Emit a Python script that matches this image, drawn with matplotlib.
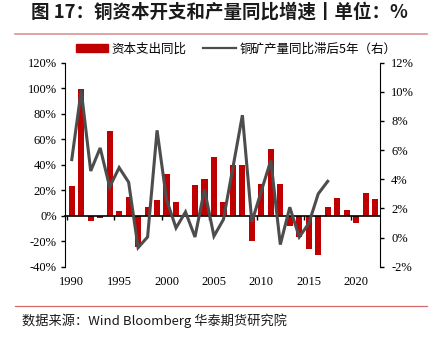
import numpy as np
import matplotlib.pyplot as plt
from matplotlib.lines import Line2D
from matplotlib.patches import Patch
from matplotlib.ticker import FuncFormatter

plt.rcParams['font.family'] = ['Noto Sans CJK SC', 'DejaVu Sans']

years = np.arange(1990, 2023)
capex_yoy = [23, 99, -4, -2, 66.5, 3.8, 15, -24.5, 6.8, 12,
             33, 11, 0, 24, 29, 46, 11, 40, 40, -19.7,
             25, 52.5, 25, -8.4, -17, -26, -30.5, 7, 14, 4.8,
             -5.5, 17.8, 13]
line_years = np.arange(1990, 2018)
output_yoy_lag5 = [5.35, 10.1, 4.57, 6.15, 3.47, 4.8, 3.8, -0.69, 0.04, 7.36,
                   2.6, 0.66, 1.76, 0.04, 3.3, 0.1, 1.24, 4.8, 8.4, 1.07,
                   3.2, 5.3, -0.48, 2.08, 0.04, 0.96, 3.0, 3.86]
label_years = [1990, 1995, 2000, 2005, 2010, 2015, 2020]

red = '#c00000'
gray = '#4d4d4d'
serif = 'Liberation Serif'

fig = plt.figure(figsize=(4.32, 3.38), dpi=100)
ax = fig.add_axes([0.1505, 0.2109, 0.7292, 0.6036])
ax2 = ax.twinx()

ax.bar(years, capex_yoy, width=0.65, color=red, zorder=1)
ax2.plot(line_years, output_yoy_lag5, color=gray, lw=2.2, solid_joinstyle='miter')

ax.set_xlim(1989.29, 2022.52)
ax.set_ylim(-40, 120)
ax2.set_ylim(-2, 12)
ax.set_yticks(np.arange(-40, 121, 20))
ax2.set_yticks(np.arange(-2, 13, 2))
ax.yaxis.set_major_formatter(FuncFormatter(lambda v, p: f'{v:.0f}%'))
ax2.yaxis.set_major_formatter(FuncFormatter(lambda v, p: f'{v:.0f}%'))

# x axis line sits on zero, ticks between categories
ax.spines['bottom'].set_position(('data', 0))
ax.spines['bottom'].set_linewidth(1.2)
ax.set_xticks(np.arange(1989.5, 2022, 5))
ax.tick_params(axis='x', direction='out', length=3, width=1, labelbottom=False)
sec = ax.secondary_xaxis('bottom')
sec.set_xticks(label_years)
sec.spines['bottom'].set_visible(False)
sec.tick_params(length=0, pad=6.5)
for t in sec.get_xticklabels():
    t.set_fontfamily(serif)
    t.set_fontsize(9)

for a in (ax, ax2):
    a.spines['top'].set_visible(False)
ax.spines['right'].set_visible(False)
ax2.spines['bottom'].set_visible(False)
ax2.spines['left'].set_visible(False)
ax.tick_params(axis='y', direction='out', length=3, width=1, pad=3)
ax2.tick_params(axis='y', direction='out', length=3, width=1, pad=5)
for t in ax.get_yticklabels() + ax2.get_yticklabels():
    t.set_fontfamily(serif)
    t.set_fontsize(9)

handles = [Patch(color=red), Line2D([], [], color=gray, lw=1.6)]
fig.legend(handles, ['资本支出同比', '铜矿产量同比滞后5年（右）'],
           loc='center', bbox_to_anchor=(236 / 432, 1 - 49 / 338), ncol=2,
           frameon=False, fontsize=9, handlelength=2.6, handleheight=0.6,
           handletextpad=0.3, columnspacing=1.3, borderpad=0)

fig.text(219 / 432, 1 - 12.5 / 338, '图 17：铜资本开支和产量同比增速丨单位：%',
         ha='center', va='center', fontsize=13.3, fontweight='bold', color='#1a1a1a')
fig.add_artist(Line2D([15 / 432, 427 / 432], [1 - 33.7 / 338] * 2,
                      color='#d99594', lw=1.2))
fig.add_artist(Line2D([15 / 432, 427 / 432], [1 - 306 / 338] * 2,
                      color='#d46a6a', lw=0.9))
fig.text(22 / 432, 1 - 321 / 338, '数据来源：Wind Bloomberg 华泰期货研究院',
         ha='left', va='center', fontsize=9.5, color='#1a1a1a')

fig.savefig('out.png', dpi=100)
